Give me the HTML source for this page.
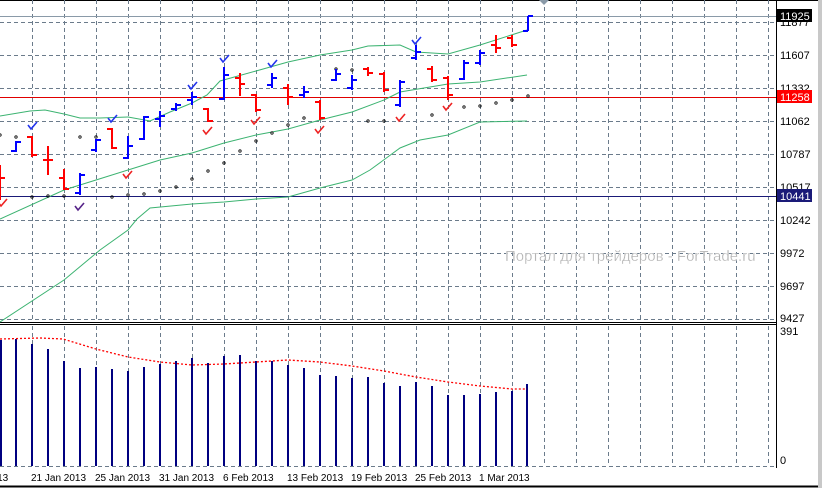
<!DOCTYPE html>
<html><head><meta charset="utf-8"><style>
html,body{margin:0;padding:0;background:#fff;}
svg{display:block;font-family:"Liberation Sans",sans-serif;}
</style></head><body>
<svg width="822" height="488" viewBox="0 0 822 488" xmlns="http://www.w3.org/2000/svg">
<rect width="822" height="488" fill="#fff"/>
<rect x="818" y="0" width="4" height="488" fill="#c8c8c8"/>
<line x1="0" y1="0.5" x2="818" y2="0.5" stroke="#000"/>
<line x1="0" y1="486.5" x2="818" y2="486.5" stroke="#000" stroke-width="2"/>
<g stroke="#6b7b8b" stroke-dasharray="4,3" stroke-width="1">
<path d="M0 22.5H776M0 55.5H776M0 88.5H776M0 121.5H776M0 154.5H776M0 187.5H776M0 220.5H776M0 253.5H776M0 286.5H776M0 319.5H776"/>
<path d="M32.5 0V321M64.5 0V321M96.5 0V321M128.5 0V321M160.5 0V321M192.5 0V321M224.5 0V321M256.5 0V321M288.5 0V321M320.5 0V321M352.5 0V321M384.5 0V321M416.5 0V321M448.5 0V321M480.5 0V321M512.5 0V321M544.5 0V321M576.5 0V321M608.5 0V321M640.5 0V321M672.5 0V321M704.5 0V321M736.5 0V321M768.5 0V321"/>
<path d="M32.5 326V466M64.5 326V466M96.5 326V466M128.5 326V466M160.5 326V466M192.5 326V466M224.5 326V466M256.5 326V466M288.5 326V466M320.5 326V466M352.5 326V466M384.5 326V466M416.5 326V466M448.5 326V466M480.5 326V466M512.5 326V466M544.5 326V466M576.5 326V466M608.5 326V466M640.5 326V466M672.5 326V466M704.5 326V466M736.5 326V466M768.5 326V466"/>
<path d="M0 466.5H776"/>
</g>
<line x1="776.5" y1="0" x2="776.5" y2="468" stroke="#000"/>
<line x1="0" y1="322.5" x2="776" y2="322.5" stroke="#000"/>
<line x1="0" y1="324.5" x2="776" y2="324.5" stroke="#000"/>
<line x1="0" y1="16.5" x2="776" y2="16.5" stroke="#8a9aa8"/>
<line x1="0" y1="97.5" x2="776" y2="97.5" stroke="#e00000"/>
<line x1="0" y1="196.5" x2="776" y2="196.5" stroke="#1a1a78"/>
<text x="505" y="261" font-size="15" fill="#b0b0b0" stroke="#fff" stroke-width="0.3">Портал для трейдеров - ForTrade.ru</text>
<g fill="none" stroke="#3cb371" stroke-width="1">
<polyline points="0,116 30,111 45,110 64,114 80,118 100,118 128,117 150,121 170,112 192,103 207,95 220,81 256,71 288,62 320,55 352,50 368,46 400,45 416,52 448,54 480,45 527,30"/>
<polyline points="0,219 64,190 96,180 128,170 160,160 192,153 224,143 256,135 288,129 320,120 352,112 384,100 400,92 448,84 480,82 527,75"/>
<polyline points="0,322 64,280 100,250 128,230 137,219 150,208 192,204 224,202 256,199 288,197 320,188 352,180 370,170 400,148 420,140 448,135 480,122 527,121"/>
</g>
<g fill="none" stroke="#000" stroke-width="0.8">
<circle cx="0" cy="135" r="1.2"/><circle cx="16" cy="137" r="1.2"/><circle cx="80" cy="137" r="1.2"/><circle cx="96" cy="137" r="1.2"/>
<circle cx="32" cy="197" r="1.2"/><circle cx="48" cy="196" r="1.2"/><circle cx="64" cy="196" r="1.2"/><circle cx="112" cy="197" r="1.2"/><circle cx="128" cy="195" r="1.2"/><circle cx="144" cy="194" r="1.2"/><circle cx="160" cy="191" r="1.2"/><circle cx="176" cy="187" r="1.2"/><circle cx="192" cy="179" r="1.2"/><circle cx="208" cy="171" r="1.2"/><circle cx="224" cy="163" r="1.2"/><circle cx="240" cy="151" r="1.2"/><circle cx="256" cy="141" r="1.2"/><circle cx="272" cy="133" r="1.2"/><circle cx="288" cy="125" r="1.2"/><circle cx="304" cy="118" r="1.2"/>
<circle cx="336" cy="69" r="1.2"/><circle cx="352" cy="70" r="1.2"/><circle cx="368" cy="121" r="1.2"/><circle cx="384" cy="121" r="1.2"/><circle cx="432" cy="115" r="1.2"/><circle cx="464" cy="107" r="1.2"/><circle cx="480" cy="106" r="1.2"/><circle cx="496" cy="103" r="1.2"/><circle cx="512" cy="100" r="1.2"/><circle cx="528" cy="96" r="1.2"/>
</g>
<g fill="none" stroke-width="2">
<g stroke="#ff0000">
<path d="M0 165V200M0 178H5"/>
<path d="M32 136V157M27 137H32M32 155H37"/>
<path d="M48 146V175M43 160H53"/>
<path d="M64 169V190M59 178H64M64 189H69"/>
<path d="M112 128V149M107 129H112M112 148H117"/>
<path d="M208 108V122M203 109H208M208 121H213"/>
<path d="M240 73V96M235 78H240M240 84H245"/>
<path d="M256 94V112M251 95H256M256 110H261"/>
<path d="M288 84V105M283 88H288M288 97H293"/>
<path d="M320 100V120M315 102H320M320 118H325"/>
<path d="M368 67V76M363 69H368M368 73H373"/>
<path d="M384 72V92M379 74H384M384 90H389"/>
<path d="M432 66V82M427 69H432M432 80H437"/>
<path d="M448 76V100M443 78H448M448 95H453"/>
<path d="M496 35V53M491 45H496M496 48H501"/>
<path d="M512 35V47M507 38H512M512 45H517"/>
</g>
<g stroke="#0000ff">
<path d="M16 141V152M11 151H16M16 142H21"/>
<path d="M80 173V195M75 193H80M80 175H85"/>
<path d="M96 139V152M91 150H96M96 140H101"/>
<path d="M128 136V159M123 158H128M128 146H133"/>
<path d="M144 116V140M139 139H144M144 117H149"/>
<path d="M160 111V127M155 119H160M160 116H165"/>
<path d="M176 103V111M171 109H176M176 105H181"/>
<path d="M192 92V105M187 100H192M192 97H197"/>
<path d="M224 67V100M219 99H224M224 75H229"/>
<path d="M272 73V88M267 85H272M272 78H277"/>
<path d="M304 86V98M299 95H304M304 92H309"/>
<path d="M336 69V81M331 80H336M336 74H341"/>
<path d="M352 75V90M347 88H352M352 80H357"/>
<path d="M400 80V107M395 105H400M400 82H405"/>
<path d="M416 45V60M411 58H416M416 52H421"/>
<path d="M464 60V80M459 79H464M464 63H469"/>
<path d="M480 50V65M475 63H480M480 53H485"/>
<path d="M528 16V31M523 31H528M528 16H533"/>
</g>
</g>
<g fill="none" stroke-width="1.6">
<g stroke="#2233ee">
<path d="M28 125l3 4l6-7"/><path d="M108 118l3 4l6-7"/><path d="M188 85l3 4l6-7"/><path d="M220 58l3 4l6-7"/><path d="M268 63l3 4l6-7"/><path d="M412 40l3 4l6-7"/>
</g>
<g stroke="#552288"><path d="M75 206l3 4l6-7"/></g>
<g stroke="#ee2222">
<path d="M-2 202l3 4l6-7"/><path d="M123 174l3 4l6-7"/><path d="M203 130l3 4l6-7"/><path d="M251 120l3 4l6-7"/><path d="M315 129l3 4l6-7"/><path d="M396 117l3 4l6-7"/><path d="M443 106l3 4l6-7"/>
</g>
</g>
<g stroke="#000080" stroke-width="2">
<path d="M1 340V466M16 339V466M32 344V466M48 349V466M64 361V466M80 368V466M96 367V466M112 369V466M128 371V466M144 367V466M160 364V466M176 361V466M192 358V466M208 363V466M224 356V466M240 355V466M256 361V466M272 361V466M288 365V466M304 368V466M320 375V466M336 376V466M352 378V466M368 377V466M384 383V466M400 386V466M416 382V466M432 386V466M448 395V466M464 395V466M480 394V466M496 392V466M512 391V466M527 384V466"/>
</g>
<polyline fill="none" stroke="#ff0000" stroke-width="1.3" stroke-dasharray="2,2" points="0,339 40,338 63,339 96,349 128,357 160,362 192,365 224,364 256,362 288,360 320,362 352,366 384,371 416,377 448,382 480,386 512,389 527,389"/>
<g font-size="11" fill="#000">
<text x="780" y="26">11877</text>
<text x="780" y="59">11607</text>
<text x="780" y="92">11332</text>
<text x="780" y="125">11062</text>
<text x="780" y="158">10787</text>
<text x="780" y="191">10517</text>
<text x="780" y="224">10242</text>
<text x="780" y="257">9972</text>
<text x="780" y="290">9697</text>
<text x="780" y="322">9427</text>
<text x="780" y="335">391</text>
<text x="780" y="464">0</text>
</g>
<rect x="777" y="9" width="35" height="13" fill="#000"/>
<text x="780" y="20" font-size="11" fill="#fff">11925</text>
<rect x="777" y="90" width="35" height="13" fill="#ff0000"/>
<text x="780" y="101" font-size="11" fill="#fff">11258</text>
<rect x="777" y="189" width="35" height="13" fill="#1a1a78"/>
<text x="780" y="200" font-size="11" fill="#fff">10441</text>
<path d="M539 0h10l-5 5z" fill="#8a9aa8"/>
<g font-size="10" fill="#000">
<text x="-14" y="481">2013</text>
<text x="31" y="481">21 Jan 2013</text>
<text x="95" y="481">25 Jan 2013</text>
<text x="159" y="481">31 Jan 2013</text>
<text x="223" y="481">6 Feb 2013</text>
<text x="287" y="481">13 Feb 2013</text>
<text x="351" y="481">19 Feb 2013</text>
<text x="415" y="481">25 Feb 2013</text>
<text x="479" y="481">1 Mar 2013</text>
</g>
</svg>
</body></html>
